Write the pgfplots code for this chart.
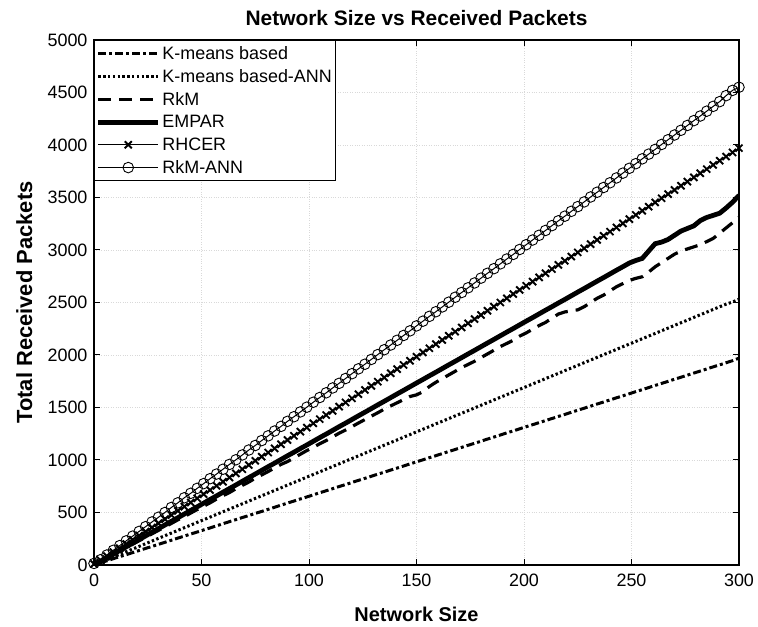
\documentclass[border=0pt]{standalone}
\usepackage{pgfplots}
\usepackage{pgfplotstable}
\pgfplotsset{compat=1.18}
\usepackage{fontspec}
\setmainfont{Liberation Sans}
\pgfplotstableread{
x a b c d e f
0 5 5 5 5 10 15
3 22 25 33 35 45 50
6 40 51 66 69 85 95
9 60 76 99 104 122 140
12 80 101 132 139 160 185
15 98 127 165 173 200 230
18 118 152 198 208 240 275
21 138 177 231 243 280 320
24 158 203 264 277 318 365
27 177 228 297 312 358 410
30 197 254 330 347 398 455
33 216 279 363 381 436 500
36 236 304 396 416 476 548
39 256 330 430 450 516 592
42 275 355 460 485 556 640
45 295 380 495 520 595 683
48 314 406 528 554 635 730
51 334 431 560 589 675 775
54 353 456 592 624 714 822
57 373 482 628 658 754 866
60 393 507 660 693 793 912
63 413 532 690 728 833 958
66 432 558 726 762 873 1002
69 452 583 758 797 912 1048
72 471 608 790 832 952 1095
75 491 634 826 866 992 1138
78 510 659 858 901 1032 1185
81 530 684 890 936 1071 1230
84 550 710 925 970 1111 1276
87 570 735 958 1005 1150 1320
90 590 761 985 1040 1190 1368
93 609 786 1020 1074 1230 1412
96 629 811 1055 1109 1270 1458
99 648 837 1090 1143 1309 1503
102 668 862 1120 1178 1349 1550
105 688 887 1155 1213 1389 1595
108 707 913 1185 1247 1428 1640
111 727 938 1220 1282 1468 1686
114 747 963 1255 1317 1508 1730
117 766 989 1285 1351 1548 1776
120 786 1014 1318 1386 1587 1822
123 806 1039 1352 1421 1627 1868
126 825 1065 1385 1455 1667 1912
129 845 1090 1418 1490 1706 1958
132 865 1115 1450 1525 1746 2004
135 884 1141 1485 1559 1786 2050
138 904 1166 1515 1594 1826 2095
141 923 1191 1545 1629 1865 2140
144 943 1217 1575 1663 1905 2186
147 963 1242 1605 1698 1945 2230
150 982 1268 1620 1733 1984 2277
153 1002 1293 1650 1767 2024 2322
156 1022 1318 1700 1802 2064 2368
159 1041 1344 1740 1836 2103 2412
162 1061 1369 1775 1871 2143 2458
165 1081 1394 1810 1906 2183 2503
168 1100 1420 1845 1940 2222 2550
171 1120 1445 1880 1975 2262 2595
174 1140 1470 1910 2010 2302 2640
177 1159 1496 1940 2044 2342 2686
180 1179 1521 1975 2079 2381 2732
183 1199 1546 2010 2114 2421 2778
186 1218 1572 2045 2148 2461 2822
189 1238 1597 2080 2183 2500 2868
192 1258 1622 2110 2218 2540 2914
195 1277 1648 2140 2252 2580 2958
198 1297 1673 2180 2287 2620 3005
201 1317 1698 2210 2322 2659 3050
204 1336 1724 2245 2356 2699 3095
207 1356 1749 2280 2391 2739 3140
210 1375 1775 2310 2426 2778 3186
213 1395 1800 2350 2460 2818 3232
216 1415 1825 2390 2495 2858 3278
219 1434 1851 2410 2529 2897 3322
222 1454 1876 2420 2564 2937 3368
225 1474 1901 2430 2599 2977 3413
228 1493 1927 2460 2633 3016 3458
231 1513 1952 2500 2668 3056 3505
234 1533 1977 2540 2703 3096 3550
237 1552 2003 2570 2737 3135 3595
240 1572 2028 2610 2772 3175 3640
243 1592 2053 2650 2807 3215 3686
246 1611 2079 2680 2841 3254 3732
249 1631 2104 2710 2876 3294 3778
252 1651 2129 2730 2900 3334 3822
255 1670 2155 2745 2920 3373 3868
258 1690 2180 2790 2990 3413 3913
261 1710 2205 2840 3060 3453 3958
264 1729 2231 2880 3075 3493 4005
267 1749 2256 2920 3100 3532 4050
270 1769 2282 2960 3140 3572 4095
273 1788 2307 2990 3180 3612 4140
276 1808 2332 3010 3205 3651 4186
279 1828 2358 3030 3230 3691 4232
282 1847 2383 3050 3280 3731 4276
285 1867 2408 3080 3310 3770 4322
288 1887 2434 3110 3330 3810 4368
291 1906 2459 3160 3350 3850 4413
294 1926 2484 3210 3400 3890 4470
297 1946 2505 3260 3455 3929 4520
300 1970 2530 3310 3520 3970 4550
}\datatable
\begin{document}
\begin{tikzpicture}
\begin{axis}[
  scale only axis,
  width=645bp, height=525bp,
  xmin=0, xmax=300, ymin=0, ymax=5000,
  xtick={0,50,...,300}, ytick={0,500,...,5000},
  tick align=inside,
  major tick length=6bp,
  axis line style={line width=1.4bp},
  every tick/.style={black, line width=1bp},
  grid=major,
  grid style={dotted, gray!30, line width=0.6bp},
  tick label style={font=\fontsize{18}{21}\selectfont},
  xticklabel style={yshift=-5bp},
  yticklabel style={xshift=-3bp},
  /pgf/number format/assume math mode=true,
  /pgf/number format/1000 sep={},
  title={Network Size vs Received Packets},
  title style={font=\fontsize{21}{24}\selectfont\bfseries, at={(axis description cs:0.5,1.03)}, anchor=center},
  xlabel={Network Size},
  ylabel={Total Received Packets},
  xlabel style={font=\fontsize{20}{23}\selectfont\bfseries, at={(axis description cs:0.5,-0.094)}, anchor=center},
  ylabel style={font=\fontsize{22}{25}\selectfont\bfseries, at={(axis description cs:-0.108,0.5)}, anchor=center},
  legend style={at={(0,1)}, anchor=north west, draw=black, line width=1.2bp,
    font=\fontsize{18}{21}\selectfont, row sep=4.5bp, inner sep=1.5bp, inner ysep=4bp},
  legend cell align=left,
  legend image code/.code={\draw[mark repeat=2,mark phase=2,#1] plot coordinates {(0cm,0cm) (1.05cm,0cm) (2.1cm,0cm)};},
]
\addplot[black, line width=3bp, dash pattern=on 8bp off 3bp on 3bp off 3bp] table[x=x,y=a] {\datatable};
\addlegendentry{K-means based}
\addplot[black, line width=3bp, dash pattern=on 2.4bp off 2.4bp] table[x=x,y=b] {\datatable};
\addlegendentry{K-means based-ANN}
\addplot[black, line width=3.2bp, dash pattern=on 13bp off 8bp] table[x=x,y=c] {\datatable};
\addlegendentry{RkM}
\addplot[black, line width=4.8bp] table[x=x,y=d] {\datatable};
\addlegendentry{EMPAR}
\addplot[black, line width=1.3bp, mark=x, mark size=5bp, mark options={line width=1.9bp}] table[x=x,y=e] {\datatable};
\addlegendentry{RHCER}
\addplot[black, line width=1bp, mark=o, mark size=5.3bp, mark options={line width=0.9bp}] table[x=x,y=f] {\datatable};
\addlegendentry{RkM-ANN}
\end{axis}
\path ([xshift=-94bp,yshift=-62bp]current axis.south west) rectangle ([xshift=19bp,yshift=40bp]current axis.north east);
\end{tikzpicture}
\end{document}
